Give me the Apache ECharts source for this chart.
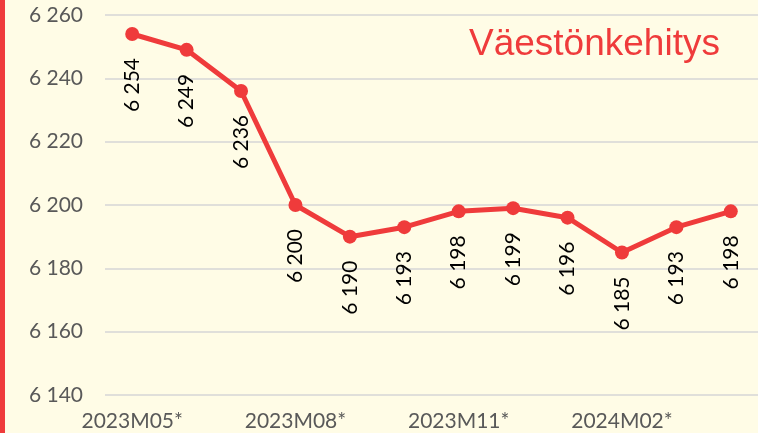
<!DOCTYPE html>
<html>
<head>
<meta charset="utf-8">
<script src="https://cdn.jsdelivr.net/npm/echarts@6/dist/echarts.min.js"></script>
<style>
html,body{margin:0;padding:0;background:#FFFCE6;}
#c{width:758px;height:433px;}
</style>
</head>
<body>
<div id="c"></div>
<script>
const categories = ['2023M05*','2023M06*','2023M07*','2023M08*','2023M09*','2023M10*','2023M11*','2023M12*','2024M01*','2024M02*','2024M03*','2024M04*'];
const population = [6254, 6249, 6236, 6200, 6190, 6193, 6198, 6199, 6196, 6185, 6193, 6198];
const titleText = 'Väestönkehitys';
const yMin = 6140, yMax = 6260, yStep = 20;

const fmt = v => String(v).replace(/\B(?=(\d{3})+(?!\d))/g, ' ');
const RED = '#EF3B3B';

const chart = echarts.init(document.getElementById('c'));
chart.setOption({
  backgroundColor: '#FFFCE6',
  animation: false,
  title: {
    text: titleText,
    left: 464, top: 21,
    textStyle: {color: RED, fontFamily: 'Liberation Sans', fontSize: 37, fontWeight: 'normal'}
  },
  graphic: [{
    type: 'rect', left: 0, top: 0, silent: true,
    shape: {width: 5, height: 433},
    style: {fill: RED}
  }],
  grid: {left: 105, right: 0, top: 15, bottom: 38},
  xAxis: {
    type: 'category',
    data: categories,
    boundaryGap: true,
    axisLine: {show: false},
    axisTick: {show: false},
    axisLabel: {interval: 2, color: '#595959', fontFamily: 'Lato', fontSize: 21, margin: 16}
  },
  yAxis: {
    type: 'value',
    min: yMin, max: yMax, interval: yStep,
    axisLine: {show: false},
    axisTick: {show: false},
    splitLine: {lineStyle: {color: '#D6D6D6', width: 1.5}},
    axisLabel: {color: '#595959', fontFamily: 'Lato', fontSize: 21, margin: 22, formatter: fmt}
  },
  series: [{
    type: 'line',
    data: population,
    symbol: 'circle',
    symbolSize: 14,
    lineStyle: {color: RED, width: 5},
    itemStyle: {color: RED},
    label: {
      show: true,
      position: 'bottom',
      distance: 17,
      rotate: 90,
      align: 'right',
      verticalAlign: 'middle',
      color: '#000',
      fontFamily: 'Lato',
      fontSize: 21,
      formatter: p => fmt(p.value)
    }
  }]
});
</script>
</body>
</html>
